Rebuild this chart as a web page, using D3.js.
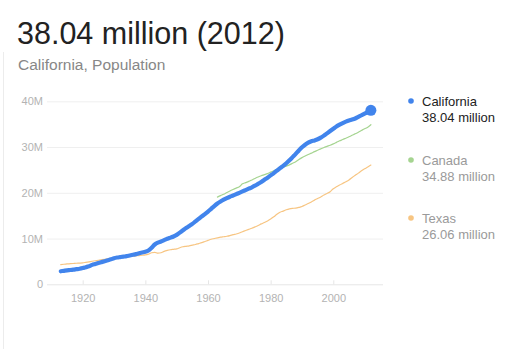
<!DOCTYPE html>
<html>
<head>
<meta charset="utf-8">
<script src="https://cdn.jsdelivr.net/npm/d3@7"></script>
<style>
  html, body { margin: 0; padding: 0; background: #fff; }
  svg { display: block; font-family: Arial, "Liberation Sans", sans-serif; }
</style>
</head>
<body>
<svg id="chart" width="511" height="349"></svg>
<script>
// Population in millions, one value per year
const caStart = 1913;
const californiaValues = [
  2.85, 2.95, 3.05, 3.12, 3.2, 3.3, 3.4, 3.55, 3.75, 3.95,
  4.25, 4.45, 4.65, 4.85, 5.05, 5.25, 5.45, 5.7, 5.85, 5.95,
  6.05, 6.15, 6.3, 6.45, 6.6, 6.8, 6.95, 7.1, 7.4, 8.0,
  8.7, 9.1, 9.35, 9.65, 9.95, 10.2, 10.45, 10.8, 11.3, 11.8,
  12.3, 12.75, 13.2, 13.75, 14.3, 14.85, 15.35, 15.9, 16.5, 17.1,
  17.65, 18.1, 18.5, 18.85, 19.15, 19.4, 19.7, 20.0, 20.3, 20.6,
  20.9, 21.2, 21.55, 21.95, 22.35, 22.85, 23.3, 23.8, 24.3, 24.85,
  25.4, 25.9, 26.45, 27.1, 27.8, 28.5, 29.25, 29.95, 30.5, 30.95,
  31.25, 31.45, 31.7, 32.05, 32.5, 33.0, 33.5, 34.0, 34.5, 34.9,
  35.25, 35.55, 35.8, 36.0, 36.25, 36.6, 36.95, 37.3, 37.65, 38.04
];
const texasStart = 1913;
const texasValues = [
  4.3, 4.38, 4.45, 4.5, 4.55, 4.6, 4.63, 4.68, 4.8, 4.92,
  5.04, 5.15, 5.25, 5.36, 5.47, 5.58, 5.69, 5.82, 5.88, 5.93,
  5.99, 6.05, 6.1, 6.16, 6.22, 6.28, 6.35, 6.42, 6.6, 6.9,
  7.0, 6.8, 6.9, 7.2, 7.4, 7.55, 7.65, 7.75, 8.0, 8.2,
  8.3, 8.4, 8.55, 8.7, 8.9, 9.1, 9.35, 9.6, 9.85, 10.0,
  10.15, 10.3, 10.4, 10.5, 10.65, 10.85, 11.0, 11.2, 11.5, 11.75,
  12.0, 12.25, 12.55, 12.85, 13.2, 13.5, 13.85, 14.25, 14.75, 15.3,
  15.75, 16.0, 16.3, 16.5, 16.6, 16.65, 16.8, 17.0, 17.35, 17.65,
  18.0, 18.4, 18.75, 19.1, 19.5, 19.85, 20.25, 20.9, 21.3, 21.7,
  22.05, 22.4, 22.8, 23.35, 23.85, 24.3, 24.8, 25.25, 25.65, 26.06
];
const canadaStart = 1963;
const canadaValues = [
  19.06, 19.39, 19.68, 20.05, 20.41, 20.73, 21.03, 21.32, 21.96, 22.22,
  22.49, 22.81, 23.14, 23.45, 23.73, 23.96, 24.2, 24.52, 24.82, 25.12,
  25.37, 25.61, 25.84, 26.1, 26.45, 26.79, 27.28, 27.69, 28.04, 28.37,
  28.68, 29.0, 29.3, 29.61, 29.91, 30.16, 30.4, 30.69, 31.02, 31.36,
  31.64, 31.94, 32.24, 32.57, 32.89, 33.25, 33.63, 34.0, 34.34, 34.88
];
const yTicks = [0, 10, 20, 30, 40];
const yTickLabels = ["0", "10M", "20M", "30M", "40M"];
const xTicks = [1920, 1940, 1960, 1980, 2000];
const seriesNames = ["California", "Canada", "Texas"];
const seriesLatest = ["38.04 million", "34.88 million", "26.06 million"];
const seriesColors = ["#4184ec", "#a5d490", "#f7c582"];
const titleText = "38.04 million (2012)";
const subtitleText = "California, Population";

const toPoints = (start, vals) => vals.map((v, i) => ({ year: start + i, value: v }));
const series = [
  toPoints(caStart, californiaValues),
  toPoints(canadaStart, canadaValues),
  toPoints(texasStart, texasValues)
];

const svg = d3.select("#chart");

// faint card edge on the left
svg.append("line")
  .attr("x1", 3.5).attr("x2", 3.5).attr("y1", 52).attr("y2", 349)
  .attr("stroke", "#ececec").attr("stroke-width", 1);

// headline and subtitle
svg.append("text").attr("x", 17).attr("y", 44)
  .attr("font-size", 30.5).attr("fill", "#222").text(titleText);
svg.append("text").attr("x", 18).attr("y", 70)
  .attr("font-size", 15.5).attr("fill", "#878787").text(subtitleText);

const x = d3.scaleLinear().domain([1920, 2000]).range([82.7, 333.3]);
const y = d3.scaleLinear().domain([0, 40]).range([284.3, 101.3]);
const plotLeft = 47, plotRight = 383;

// horizontal gridlines with value labels
const yAxis = d3.axisLeft(y)
  .tickValues(yTicks)
  .tickSize(-(plotRight - plotLeft))
  .tickPadding(4)
  .tickFormat((d, i) => yTickLabels[i]);
const gy = svg.append("g").attr("transform", `translate(${plotLeft},0)`).call(yAxis);
gy.select(".domain").remove();
gy.selectAll(".tick line").attr("stroke", d => d === 0 ? "#e6e6e6" : "#efefef");
gy.selectAll(".tick text")
  .attr("fill", "#b3b3b3").attr("font-size", 11)
  .attr("font-family", "Arial, 'Liberation Sans', sans-serif");

// year ticks along the baseline
const xAxis = d3.axisBottom(x).tickValues(xTicks).tickSize(-4).tickPadding(10).tickFormat(d3.format("d"));
const gx = svg.append("g").attr("transform", `translate(0,${y(0)})`).call(xAxis);
gx.select(".domain").remove();
gx.selectAll(".tick line").attr("stroke", "#e6e6e6");
gx.selectAll(".tick text")
  .attr("fill", "#b3b3b3").attr("font-size", 11)
  .attr("font-family", "Arial, 'Liberation Sans', sans-serif");

const line = d3.line()
  .x(d => x(d.year)).y(d => y(d.value))
  .curve(d3.curveMonotoneX);

// draw thin lines first, California on top
const order = [2, 1, 0];
const widths = [4.2, 1.2, 1.2];
order.forEach(i => {
  svg.append("path")
    .datum(series[i])
    .attr("d", line)
    .attr("fill", "none")
    .attr("stroke", seriesColors[i])
    .attr("stroke-width", widths[i])
    .attr("stroke-linejoin", "round")
    .attr("stroke-linecap", "round");
});

// end marker on California
const last = series[0][series[0].length - 1];
svg.append("circle")
  .attr("cx", x(last.year)).attr("cy", y(last.value)).attr("r", 5.5)
  .attr("fill", seriesColors[0]);

// legend
const legendY = [101, 160, 218];
seriesNames.forEach((name, i) => {
  const g = svg.append("g").attr("transform", `translate(0,${legendY[i]})`);
  g.append("circle").attr("cx", 411).attr("cy", 0).attr("r", 2.8).attr("fill", seriesColors[i]);
  const col = i === 0 ? "#222" : "#9a9a9a";
  g.append("text").attr("x", 422).attr("y", 4.5).attr("font-size", 13).attr("fill", col).text(name);
  g.append("text").attr("x", 422).attr("y", 20.5).attr("font-size", 13).attr("fill", col).text(seriesLatest[i]);
});
</script>
</body>
</html>
